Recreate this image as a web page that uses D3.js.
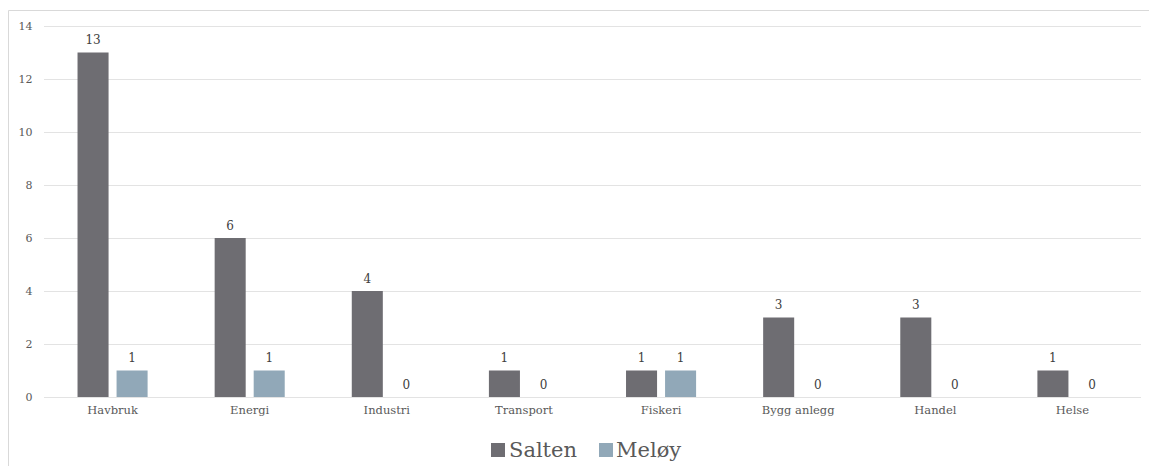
<!DOCTYPE html>
<html>
<head>
<meta charset="utf-8">
<script src="https://cdn.jsdelivr.net/npm/d3@7"></script>
<style>
  html, body { margin: 0; padding: 0; background: #fff; }
  svg { display: block; }
  svg text { font-family: "DejaVu Serif", "Liberation Serif", serif; }
</style>
</head>
<body>
<svg id="chart" width="1149" height="466"></svg>
<script>
const categories = ["Havbruk", "Energi", "Industri", "Transport", "Fiskeri", "Bygg anlegg", "Handel", "Helse"];
const seriesNames = ["Salten", "Meløy"];
const saltenValues = [13, 6, 4, 1, 1, 3, 3, 1];
const meloyValues = [1, 1, 0, 0, 1, 0, 0, 0];
const yTicks = [0, 2, 4, 6, 8, 10, 12, 14];
const colors = ["#6e6d72", "#91a8b8"];

const seriesValues = [saltenValues, meloyValues];
const font = "DejaVu Serif, Liberation Serif, serif";

const svg = d3.select("#chart");

// outer border
svg.append("path")
  .attr("d", "M8.5,470 V10.5 H1160")
  .attr("fill", "none")
  .attr("stroke", "#d9d9d9")
  .attr("stroke-width", 1);

const plotLeft = 44, plotRight = 1141, plotTop = 26, plotBottom = 397;

const x0 = d3.scaleBand().domain(categories).range([plotLeft, plotRight]).padding(0);
const bw = x0.bandwidth();
const x1 = d3.scaleBand().domain(seriesNames)
  .range([bw * 0.2445, bw * 0.7555]).paddingInner(0.205);
const y = d3.scaleLinear().domain([0, 14]).range([plotBottom, plotTop]);

// gridlines
svg.append("g").selectAll("line").data(yTicks).join("line")
  .attr("x1", plotLeft).attr("x2", plotRight)
  .attr("y1", d => Math.round(y(d)) + 0.5).attr("y2", d => Math.round(y(d)) + 0.5)
  .attr("stroke", "#e3e3e3").attr("stroke-width", 1);

// y axis labels
const yAxis = d3.axisLeft(y).tickValues(yTicks).tickSize(0).tickPadding(0);
const gy = svg.append("g").attr("transform", `translate(32.5,0)`).call(yAxis);
gy.attr("font-family", null);
gy.select(".domain").remove();
gy.selectAll("text")
  .style("font-family", font).style("font-size", "11px").attr("fill", "#595959");

// x axis labels
const xAxis = d3.axisBottom(x0).tickSize(0).tickPadding(0);
const gx = svg.append("g").attr("transform", `translate(0,${plotBottom + 9})`).call(xAxis);
gx.attr("font-family", null);
gx.select(".domain").remove();
gx.selectAll("text")
  .style("font-family", font).style("font-size", "11.5px").attr("fill", "#595959");

// bars
const groups = svg.append("g").selectAll("g").data(categories).join("g")
  .attr("transform", d => `translate(${x0(d)},0)`);

groups.selectAll("rect")
  .data((c, i) => seriesNames.map((s, j) => ({ s, j, v: seriesValues[j][i] })))
  .join("rect")
  .attr("x", d => x1(d.s))
  .attr("width", x1.bandwidth())
  .attr("y", d => y(d.v))
  .attr("height", d => y(0) - y(d.v))
  .attr("fill", d => colors[d.j]);

groups.selectAll("text.val")
  .data((c, i) => seriesNames.map((s, j) => ({ s, j, v: seriesValues[j][i] })))
  .join("text")
  .attr("class", "val")
  .attr("x", d => x1(d.s) + x1.bandwidth() / 2)
  .attr("y", d => y(d.v) - 8.5)
  .attr("text-anchor", "middle")
  .style("font-family", font).style("font-size", "12px").attr("fill", "#404040")
  .text(d => d.v);

// legend
const legend = svg.append("g");
const legendItems = [
  { name: seriesNames[0], color: colors[0], x: 491, tx: 509 },
  { name: seriesNames[1], color: colors[1], x: 599, tx: 616 }
];
legendItems.forEach(it => {
  legend.append("rect").attr("x", it.x).attr("y", 443).attr("width", 14).attr("height", 14)
    .attr("fill", it.color);
  legend.append("text").attr("x", it.tx).attr("y", 457)
    .style("font-family", font).style("font-size", "21px").attr("fill", "#595959")
    .text(it.name);
});
</script>
</body>
</html>
